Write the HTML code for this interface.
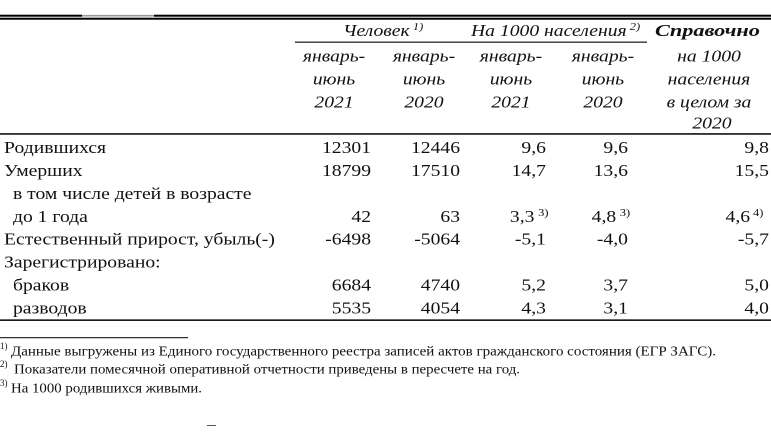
<!DOCTYPE html>
<html><head><meta charset="utf-8"><style>
html,body{margin:0;padding:0;background:#fff;}
svg{display:block;}
text{font-family:"Liberation Serif","DejaVu Serif",serif;fill:#111;}
.i{font-style:italic;}
</style></head><body>
<svg width="771" height="434" viewBox="0 0 771 434" xmlns="http://www.w3.org/2000/svg">
<rect x="0" y="0" width="771" height="434" fill="#fff"/>
<!-- top double rule -->
<rect x="0" y="14.7" width="82" height="2" fill="#000"/>
<rect x="82" y="14.9" width="72" height="1.6" fill="#999"/>
<rect x="154" y="14.7" width="617" height="2" fill="#000"/>
<rect x="0" y="17.7" width="771" height="2" fill="#000"/>
<!-- sub header rule -->
<rect x="295" y="41.6" width="352" height="1.1" fill="#000"/>
<!-- header bottom rule -->
<rect x="0" y="133.2" width="771" height="1.5" fill="#000"/>
<!-- bottom rule -->
<rect x="0" y="319.4" width="771" height="1.5" fill="#000"/>
<!-- footnote separator -->
<rect x="0" y="337.2" width="188" height="1" fill="#000"/>

<g transform="scale(1.19 1)" font-size="16.5">
  <!-- header -->
  <text class="i" x="288.2" y="36">Человек<tspan font-size="10.5" dy="-6"> 1)</tspan></text>
  <text class="i" x="395.8" y="36">На 1000 населения<tspan font-size="10.5" dy="-6"> 2)</tspan></text>
  <text class="i" x="550.4" y="36" font-weight="bold" textLength="88.2" lengthAdjust="spacingAndGlyphs">Справочно</text>

  <g class="i" text-anchor="middle">
    <text class="i" x="280.7" y="61.5">январь-</text>
    <text class="i" x="280.7" y="84.5">июнь</text>
    <text class="i" x="280.7" y="107.5">2021</text>

    <text class="i" x="356.3" y="61.5">январь-</text>
    <text class="i" x="356.3" y="84.5">июнь</text>
    <text class="i" x="356.3" y="107.5">2020</text>

    <text class="i" x="429.4" y="61.5">январь-</text>
    <text class="i" x="429.4" y="84.5">июнь</text>
    <text class="i" x="429.4" y="107.5">2021</text>

    <text class="i" x="506.7" y="61.5">январь-</text>
    <text class="i" x="506.7" y="84.5">июнь</text>
    <text class="i" x="506.7" y="107.5">2020</text>

    <text class="i" x="595.8" y="61.5">на 1000</text>
    <text class="i" x="595.8" y="84.5">населения</text>
    <text class="i" x="595.8" y="107.5">в целом за</text>
    <text class="i" x="598.3" y="128.5">2020</text>
  </g>

  <!-- labels -->
  <text x="3.4" y="153">Родившихся</text>
  <text x="3.4" y="175.9">Умерших</text>
  <text x="10.9" y="198.9">в том числе детей в возрасте</text>
  <text x="10.9" y="221.8">до 1 года</text>
  <text x="3.4" y="244.7">Естественный прирост, убыль(-)</text>
  <text x="3.4" y="267.6">Зарегистрировано:</text>
  <text x="10.9" y="290.6">браков</text>
  <text x="10.9" y="313.5">разводов</text>

  <g text-anchor="end">
    <text x="311.8" y="153">12301</text>
    <text x="311.8" y="175.9">18799</text>
    <text x="311.8" y="221.8">42</text>
    <text x="311.8" y="244.7">-6498</text>
    <text x="311.8" y="290.6">6684</text>
    <text x="311.8" y="313.5">5535</text>

    <text x="386.6" y="153">12446</text>
    <text x="386.6" y="175.9">17510</text>
    <text x="386.6" y="221.8">63</text>
    <text x="386.6" y="244.7">-5064</text>
    <text x="386.6" y="290.6">4740</text>
    <text x="386.6" y="313.5">4054</text>

    <text x="458.8" y="153">9,6</text>
    <text x="458.8" y="175.9">14,7</text>
    <text x="449.1" y="221.8">3,3</text>
    <text x="458.8" y="244.7">-5,1</text>
    <text x="458.8" y="290.6">5,2</text>
    <text x="458.8" y="313.5">4,3</text>

    <text x="527.7" y="153">9,6</text>
    <text x="527.7" y="175.9">13,6</text>
    <text x="517.8" y="221.8">4,8</text>
    <text x="527.7" y="244.7">-4,0</text>
    <text x="527.7" y="290.6">3,7</text>
    <text x="527.7" y="313.5">3,1</text>

    <text x="646.2" y="153">9,8</text>
    <text x="646.2" y="175.9">15,5</text>
    <text x="630.3" y="221.8">4,6</text>
    <text x="646.2" y="244.7">-5,7</text>
    <text x="646.2" y="290.6">5,0</text>
    <text x="646.2" y="313.5">4,0</text>
  </g>
  <text x="452.2" y="215.8" font-size="10.5">3)</text>
  <text x="520.8" y="215.8" font-size="10.5">3)</text>
  <text x="632.8" y="215.8" font-size="10.5">4)</text>
</g>

<!-- footnotes -->
<g font-size="13.5">
  <text x="0" y="349" font-size="9">1)</text>
  <text x="11" y="355.5" textLength="705" lengthAdjust="spacingAndGlyphs">Данные выгружены из Единого государственного реестра записей актов гражданского состояния (ЕГР ЗАГС).</text>
  <text x="0" y="367" font-size="9">2)</text>
  <text x="14" y="373.5" textLength="506" lengthAdjust="spacingAndGlyphs">Показатели помесячной оперативной отчетности приведены в пересчете на год.</text>
  <text x="0" y="386" font-size="9">3)</text>
  <text x="11" y="392.5" textLength="191" lengthAdjust="spacingAndGlyphs">На 1000 родившихся живыми.</text>
</g>
<rect x="207" y="425" width="9" height="1" fill="#555"/>
</svg>
</body></html>
